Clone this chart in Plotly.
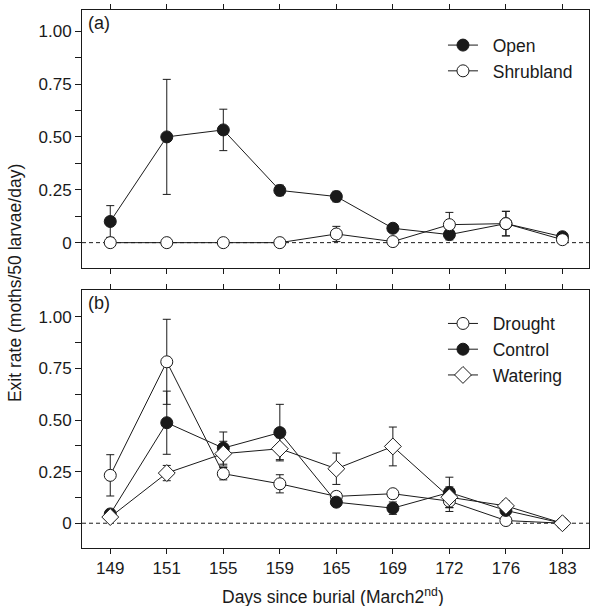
import plotly.graph_objects as go

days = ["149", "151", "155", "159", "165", "169", "172", "176", "183"]

# Panel (a)
open_y = [0.10, 0.50, 0.533, 0.247, 0.218, 0.068, 0.038, 0.09, 0.028]
open_err = [0.075, 0.272, 0.098, 0.025, 0.025, 0.008, 0.025, 0.058, 0.006]
shrub_y = [0.0, 0.0, 0.0, 0.0, 0.041, 0.005, 0.085, 0.09, 0.014]
shrub_err = [0.0, 0.0, 0.0, 0.0, 0.036, 0.0, 0.058, 0.058, 0.0]

# Panel (b)
drought_y = [0.232, 0.782, 0.24, 0.191, 0.13, 0.143, 0.107, 0.013, 0.0]
drought_err = [0.1, 0.206, 0.03, 0.044, 0.02, 0.02, 0.05, 0.0, 0.0]
control_y = [0.045, 0.487, 0.364, 0.439, 0.102, 0.073, 0.149, 0.062, 0.0]
control_err = [0.015, 0.153, 0.078, 0.137, 0.02, 0.03, 0.074, 0.02, 0.0]
watering_y = [0.03, 0.243, 0.337, 0.361, 0.264, 0.372, 0.126, 0.084, 0.0]
watering_err = [0.01, 0.037, 0.06, 0.053, 0.076, 0.094, 0.05, 0.025, 0.0]

FONT = "Liberation Sans, Arial, sans-serif"
BLACK = "#1a1a1a"
PAD = "\u00a0\u00a0"

fig = go.Figure()


def add(y, err, name, symbol, fill, xa, ya, legend):
    fig.add_trace(go.Scatter(
        x=days, y=y, name=PAD + name, mode="lines+markers",
        xaxis=xa, yaxis=ya, legend=legend,
        line=dict(color=BLACK, width=1),
        marker=dict(symbol=symbol, size=12 if symbol == "circle" else 13,
                    color=fill, line=dict(color=BLACK, width=1)),
        error_y=dict(type="data", array=err, visible=True,
                     color=BLACK, thickness=1, width=4),
    ))


add(open_y, open_err, "Open", "circle", BLACK, "x", "y", "legend")
add(shrub_y, shrub_err, "Shrubland", "circle", "white", "x", "y", "legend")
add(drought_y, drought_err, "Drought", "circle", "white", "x2", "y2", "legend2")
add(control_y, control_err, "Control", "circle", BLACK, "x2", "y2", "legend2")
add(watering_y, watering_err, "Watering", "diamond", "white", "x2", "y2", "legend2")

xcommon = dict(
    type="category", categoryorder="array", categoryarray=days,
    range=[-0.5, 8.47], showline=True, linecolor=BLACK, linewidth=1,
    mirror="ticks", ticks="outside", ticklen=5, tickcolor=BLACK,
    showgrid=False, zeroline=False,
    tickfont=dict(family=FONT, size=17, color=BLACK),
)
ycommon = dict(
    tickvals=[0, 0.25, 0.5, 0.75, 1.0],
    ticktext=["0", "0.25", "0.50", "0.75", "1.00"],
    showline=True, linecolor=BLACK, linewidth=1, mirror=True,
    ticks="outside", ticklen=6, tickcolor=BLACK,
    minor=dict(ticks="outside", tickvals=[-0.125, 0.125, 0.375, 0.625, 0.875], ticklen=6, tickcolor=BLACK),
    showgrid=False, zeroline=False,
    tickfont=dict(family=FONT, size=17, color=BLACK),
)

legcommon = dict(xref="paper", yref="paper", xanchor="left", yanchor="top",
                 bgcolor="rgba(0,0,0,0)", font=dict(family=FONT, size=17.5, color=BLACK),
                 tracegroupgap=0, itemwidth=30)

fig.update_layout(
    width=590, height=606,
    margin=dict(l=82, r=1, t=10, b=58),
    plot_bgcolor="white", paper_bgcolor="white",
    font=dict(family=FONT, color=BLACK),
    xaxis=dict(xcommon, anchor="y", showticklabels=False),
    yaxis=dict(ycommon, domain=[0.5204, 1.0], range=[-0.12, 1.1], anchor="x"),
    xaxis2=dict(xcommon, anchor="y2"),
    yaxis2=dict(ycommon, domain=[0.0, 0.4796], range=[-0.12, 1.13], anchor="x2"),
    legend=dict(legcommon, x=0.712, y=0.968),
    legend2=dict(legcommon, x=0.712, y=0.4506),
    showlegend=True,
)

for xa, ya in (("x", "y"), ("x2", "y2")):
    fig.add_shape(type="line", xref=f"{xa} domain", yref=ya, x0=0, x1=1, y0=0, y1=0,
                  line=dict(color=BLACK, width=1, dash="4px,3px"), layer="below")

fig.add_annotation(text="(a)", xref="x domain", yref="y domain", x=0.008, y=0.995,
                   xanchor="left", yanchor="top", showarrow=False,
                   font=dict(family=FONT, size=18, color=BLACK))
fig.add_annotation(text="(b)", xref="x2 domain", yref="y2 domain", x=0.008, y=0.995,
                   xanchor="left", yanchor="top", showarrow=False,
                   font=dict(family=FONT, size=18, color=BLACK))
fig.add_annotation(text="Exit rate (moths/50 larvae/day)", xref="paper", yref="paper",
                   x=-0.132, y=0.4926, textangle=-90, showarrow=False,
                   xanchor="center", yanchor="middle",
                   font=dict(family=FONT, size=17.5, color=BLACK))
fig.add_annotation(text="Days since burial (March2<sup>nd</sup>)", xref="paper", yref="paper",
                   x=0.496, y=-0.090, showarrow=False, xanchor="center", yanchor="middle",
                   font=dict(family=FONT, size=17.5, color=BLACK))

fig.write_html("out.html")
